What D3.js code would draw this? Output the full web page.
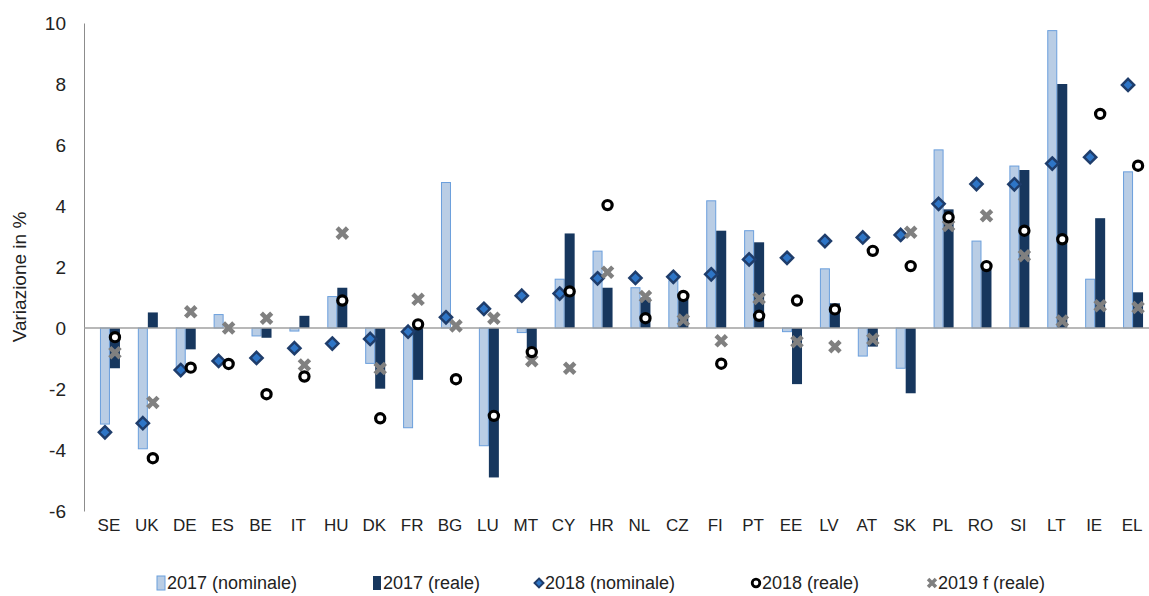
<!DOCTYPE html>
<html>
<head>
<meta charset="utf-8">
<script src="https://cdn.jsdelivr.net/npm/d3@7"></script>
<style>
    body { margin: 0; background: #fff; }
    svg { font-family: "Liberation Sans", Arial, sans-serif; }
</style>
</head>
<body>
<div id="chart"></div>
<script>
// data
const countries = ["SE","UK","DE","ES","BE","IT","HU","DK","FR","BG","LU","MT","CY","HR","NL","CZ","FI","PT","EE","LV","AT","SK","PL","RO","SI","LT","IE","EL"];
const nominal2017 = [-3.15,-3.96,-1.27,0.44,-0.26,-0.1,1.03,-1.16,-3.27,4.77,-3.86,-0.15,1.6,2.52,1.32,1.55,4.17,3.19,-0.12,1.94,-0.92,-1.32,5.84,2.85,5.31,9.75,1.6,5.12];
const real2017 = [-1.32,0.51,-0.7,0,-0.32,0.4,1.32,-1.99,-1.7,0,-4.9,-0.81,3.1,1.32,1.0,1.0,3.19,2.81,-1.84,0.81,-0.61,-2.14,3.89,2.0,5.18,8.0,3.6,1.17];
const nominal2018 = [-3.42,-3.12,-1.38,-1.08,-0.98,-0.66,-0.51,-0.36,-0.12,0.35,0.63,1.06,1.13,1.63,1.64,1.68,1.76,2.25,2.3,2.85,2.97,3.05,4.07,4.72,4.71,5.39,5.6,7.97];
const real2018 = [-0.3,-4.27,-1.3,-1.18,-2.17,-1.59,0.9,-2.96,0.12,-1.68,-2.88,-0.79,1.2,4.03,0.32,1.05,-1.17,0.4,0.9,0.61,2.53,2.03,3.63,2.03,3.19,2.91,7.02,5.32];
const real2019f = [-0.81,-2.44,0.53,0.0,0.32,-1.21,3.11,-1.33,0.94,0.07,0.32,-1.07,-1.32,1.83,1.03,0.26,-0.42,0.97,-0.45,-0.61,-0.37,3.14,3.36,3.68,2.37,0.23,0.73,0.67];
const yTicks = [-6,-4,-2,0,2,4,6,8,10];
const legendLabels = ["2017 (nominale)","2017 (reale)","2018 (nominale)","2018 (reale)","2019 f (reale)"];

const width = 1149, height = 596;
const lightFill = "#b9cde5", lightStroke = "#6b9fdc", darkFill = "#17375e";
const diamondFill = "#2e75c6", diamondStroke = "#1f3d6b", crossColor = "#808080";

let svg = d3.select("#chart").append("svg")
    .attr("width", width)
    .attr("height", height);

let x = d3.scaleBand().domain(countries).range([91, 1152]);
let y = d3.scaleLinear().domain([-6, 10]).range([511, 23]);
let barW = 10;

let rows = countries.map((c, i) => ({
    c: c, n17: nominal2017[i], r17: real2017[i], n18: nominal2018[i], r18: real2018[i], r19: real2019f[i]
}));

// y axis
let yAxis = svg.append("g")
    .attr("transform", "translate(84,0)")
    .call(d3.axisLeft(y).tickValues(yTicks).tickSize(0).tickPadding(18).tickFormat(d3.format("d")));
yAxis.select(".domain").attr("stroke", "#8c8c8c");
yAxis.selectAll("text").attr("font-size", 19).attr("fill", "#222")
    .text(d => d < 0 ? "-" + Math.abs(d) : d);

svg.append("text")
    .attr("transform", "translate(26,277) rotate(-90)")
    .attr("text-anchor", "middle")
    .attr("font-size", 19)
    .attr("fill", "#222")
    .text("Variazione in %");

// x labels
svg.append("g").selectAll("text").data(countries).enter()
    .append("text")
    .attr("x", d => x(d) + x.bandwidth() / 2 - 1)
    .attr("y", 531)
    .attr("text-anchor", "middle")
    .attr("font-size", 17)
    .attr("fill", "#222")
    .text(d => d);

// bars
svg.append("g").selectAll("rect").data(rows).enter()
    .append("rect")
    .attr("x", d => x(d.c) + x.bandwidth() / 2 - barW + 0.5)
    .attr("y", d => Math.min(y(d.n17), y(0)))
    .attr("width", barW - 1)
    .attr("height", d => Math.abs(y(d.n17) - y(0)))
    .attr("fill", lightFill)
    .attr("stroke", lightStroke)
    .attr("stroke-width", 1);

svg.append("g").selectAll("rect").data(rows).enter()
    .append("rect")
    .attr("x", d => x(d.c) + x.bandwidth() / 2)
    .attr("y", d => Math.min(y(d.r17), y(0)))
    .attr("width", barW)
    .attr("height", d => Math.abs(y(d.r17) - y(0)))
    .attr("fill", darkFill);

// zero line
svg.append("line")
    .attr("x1", 84).attr("x2", width)
    .attr("y1", y(0)).attr("y2", y(0))
    .attr("stroke", "#a0a0a0")
    .attr("stroke-width", 1.5);

// markers
let diamond = d3.symbol().type(d3.symbolDiamond2).size(95);
let cross = d3.symbol().type(d3.symbolX).size(72);

svg.append("g").selectAll("path").data(rows).enter()
    .append("path")
    .attr("d", diamond)
    .attr("transform", d => "translate(" + (x(d.c) + x.bandwidth() / 2 - barW / 2) + "," + y(d.n18) + ")")
    .attr("fill", diamondFill)
    .attr("stroke", diamondStroke)
    .attr("stroke-width", 2.5);

svg.append("g").selectAll("path").data(rows).enter()
    .append("path")
    .attr("d", cross)
    .attr("transform", d => "translate(" + (x(d.c) + x.bandwidth() / 2 + barW / 2) + "," + y(d.r19) + ")")
    .attr("stroke", crossColor)
    .attr("stroke-width", 4.5);

svg.append("g").selectAll("circle").data(rows).enter()
    .append("circle")
    .attr("cx", d => x(d.c) + x.bandwidth() / 2 + barW / 2)
    .attr("cy", d => y(d.r18))
    .attr("r", 4.6)
    .attr("fill", "#fff")
    .attr("stroke", "#000")
    .attr("stroke-width", 3.2);

// legend
let legendX = [157, 373, 535, 752, 928];
let legend = svg.append("g");
legendLabels.forEach((label, i) => {
    let g = legend.append("g").attr("transform", "translate(" + legendX[i] + ",583)");
    if (i == 0) {
        g.append("rect").attr("x", 0).attr("y", -7).attr("width", 8).attr("height", 14)
            .attr("fill", lightFill).attr("stroke", lightStroke);
    } else if (i == 1) {
        g.append("rect").attr("x", 0).attr("y", -7).attr("width", 8).attr("height", 14).attr("fill", darkFill);
    } else if (i == 2) {
        g.append("path").attr("d", d3.symbol().type(d3.symbolDiamond2).size(50)).attr("transform", "translate(4,0)")
            .attr("fill", diamondFill).attr("stroke", diamondStroke).attr("stroke-width", 2);
    } else if (i == 3) {
        g.append("circle").attr("cx", 4).attr("cy", 0).attr("r", 3.8)
            .attr("fill", "#fff").attr("stroke", "#000").attr("stroke-width", 2.8);
    } else {
        g.append("path").attr("d", d3.symbol().type(d3.symbolX).size(42)).attr("transform", "translate(4,0)")
            .attr("stroke", crossColor).attr("stroke-width", 3.5);
    }
    g.append("text").attr("x", 10).attr("y", 6).attr("font-size", 18).attr("fill", "#222").text(label);
});
</script>
</body>
</html>
